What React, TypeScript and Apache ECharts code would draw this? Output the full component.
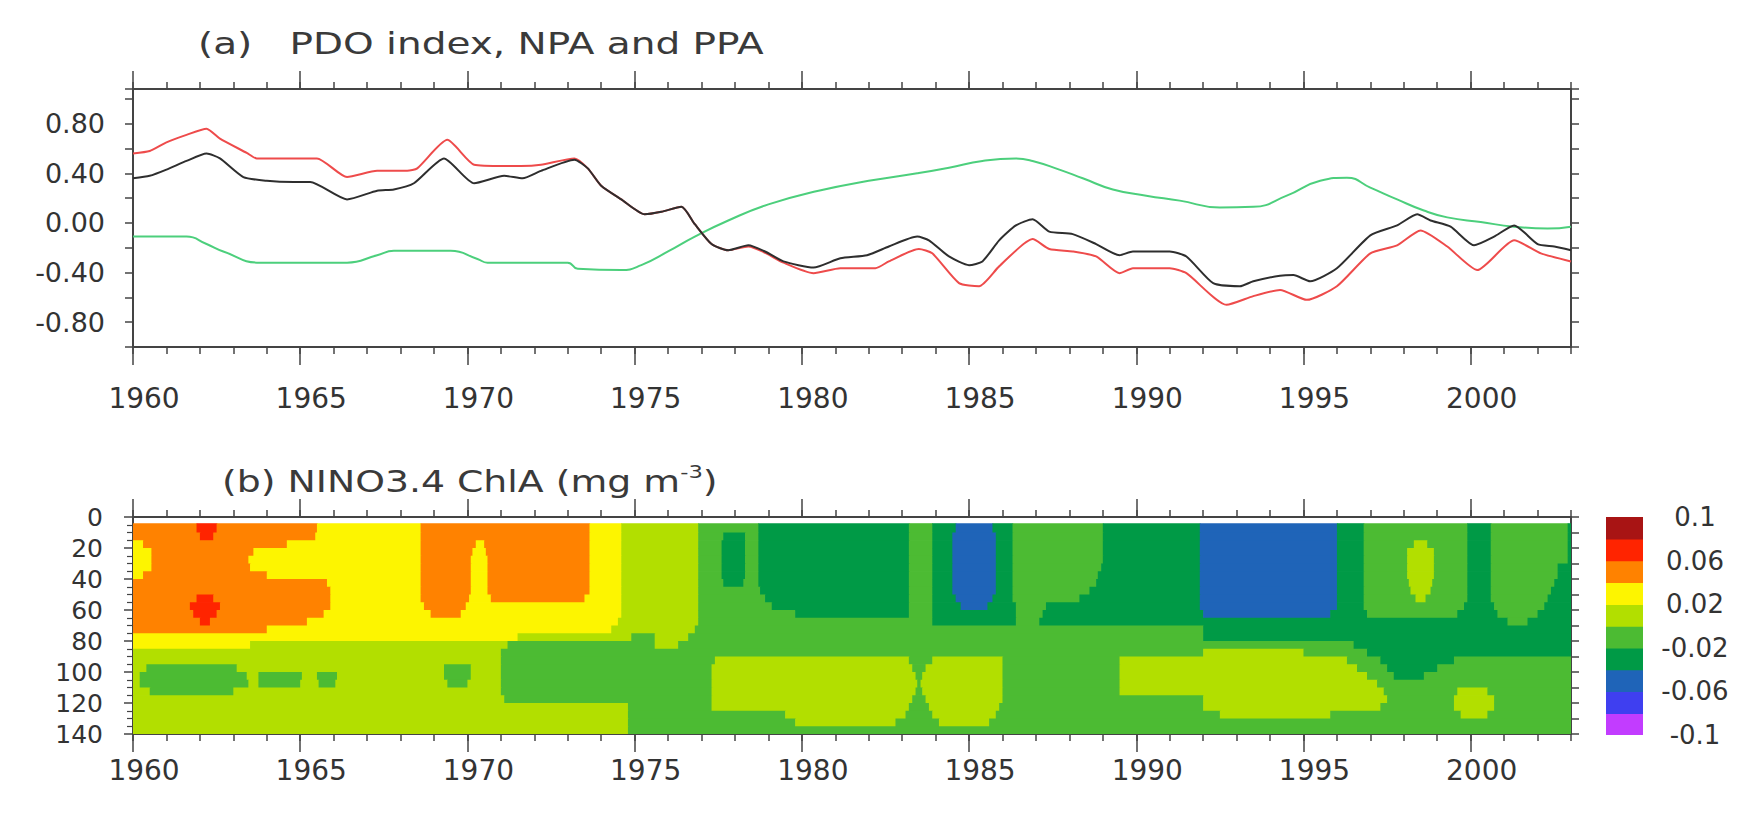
import React, { useEffect, useRef } from 'react';
import * as echarts from 'echarts';

// ---------- axis ranges / tick labels ----------
const xMin = 1960;
const xMax = 2003;
const yearLabels = [1960, 1965, 1970, 1975, 1980, 1985, 1990, 1995, 2000];
const indexMin = -1;
const indexMax = 1.08;
const indexLabels = [-0.8, -0.4, 0, 0.4, 0.8];
const depthMin = 0;
const depthMax = 140;

// ---------- panel (a): PDO index (black), NPA (red), PPA (green) ----------
const pdoYears = [1960.0, 1960.5, 1961.0, 1961.6, 1962.2, 1962.6, 1963.3, 1964.0, 1964.8, 1965.3, 1966.4, 1967.3, 1967.8, 1968.4, 1969.3, 1970.2, 1971.1, 1971.65, 1972.2, 1973.2, 1973.6, 1974.0, 1974.6, 1975.3, 1975.8, 1976.4, 1976.8, 1977.3, 1977.8, 1978.4, 1978.9, 1979.45, 1980.35, 1981.15, 1981.95, 1982.6, 1983.45, 1983.8, 1984.4, 1985.0, 1985.4, 1985.9, 1986.4, 1986.9, 1987.4, 1988.1, 1988.8, 1989.5, 1989.9, 1991.0, 1991.5, 1992.3, 1993.1, 1993.5, 1994.3, 1994.7, 1995.2, 1996.0, 1997.0, 1997.8, 1998.4, 1998.8, 1999.4, 2000.1, 2000.7, 2001.3, 2002.0, 2002.5, 2003.0];
const pdoValues = [0.36, 0.38, 0.43, 0.5, 0.56, 0.52, 0.37, 0.34, 0.33, 0.33, 0.19, 0.26, 0.27, 0.32, 0.52, 0.32, 0.38, 0.36, 0.42, 0.51, 0.44, 0.3, 0.19, 0.07, 0.09, 0.13, -0.01, -0.17, -0.22, -0.18, -0.23, -0.31, -0.36, -0.285, -0.26, -0.19, -0.11, -0.14, -0.27, -0.34, -0.31, -0.14, -0.02, 0.03, -0.07, -0.09, -0.17, -0.26, -0.23, -0.23, -0.27, -0.485, -0.51, -0.47, -0.425, -0.42, -0.47, -0.365, -0.1, -0.02, 0.07, 0.02, -0.03, -0.18, -0.11, -0.02, -0.17, -0.19, -0.22];

const npaYears = [1960.0, 1960.5, 1961.0, 1961.6, 1962.2, 1962.6, 1963.4, 1963.7, 1965.5, 1966.4, 1967.3, 1968.2, 1968.5, 1969.4, 1970.2, 1971.1, 1971.6, 1972.2, 1973.2, 1973.6, 1974.0, 1974.6, 1975.3, 1975.8, 1976.4, 1976.8, 1977.3, 1977.8, 1978.4, 1978.9, 1979.45, 1980.35, 1981.15, 1982.2, 1982.6, 1983.5, 1983.9, 1984.7, 1985.3, 1985.9, 1986.9, 1987.4, 1988.1, 1988.8, 1989.5, 1989.9, 1991.0, 1991.5, 1992.7, 1993.5, 1994.3, 1995.1, 1996.0, 1997.0, 1997.8, 1998.5, 1999.3, 2000.2, 2001.3, 2002.1, 2003.0];
const npaValues = [0.56, 0.58, 0.65, 0.71, 0.76, 0.68, 0.565, 0.52, 0.52, 0.37, 0.42, 0.42, 0.44, 0.67, 0.47, 0.46, 0.46, 0.47, 0.52, 0.44, 0.3, 0.19, 0.07, 0.09, 0.13, -0.01, -0.17, -0.22, -0.19, -0.24, -0.32, -0.405, -0.365, -0.365, -0.31, -0.21, -0.245, -0.485, -0.51, -0.35, -0.13, -0.21, -0.23, -0.27, -0.405, -0.365, -0.365, -0.405, -0.66, -0.59, -0.54, -0.62, -0.51, -0.245, -0.18, -0.06, -0.19, -0.38, -0.14, -0.245, -0.31];

const ppaYears = [1960.0, 1961.6, 1962.2, 1962.7, 1963.8, 1966.4, 1967.3, 1967.8, 1969.5, 1970.3, 1970.6, 1973.0, 1973.3, 1974.6, 1975.2, 1976.0, 1976.8, 1977.8, 1979.0, 1980.5, 1982.0, 1983.45, 1984.4, 1985.4, 1986.4, 1986.9, 1987.7, 1988.4, 1989.3, 1990.3, 1991.3, 1992.5, 1993.5, 1994.5, 1995.5, 1996.3, 1997.0, 1997.8, 1998.6, 1999.3, 2000.3, 2001.3, 2002.3, 2003.0];
const ppaValues = [-0.11, -0.11, -0.17, -0.23, -0.32, -0.32, -0.26, -0.225, -0.225, -0.29, -0.32, -0.32, -0.37, -0.38, -0.34, -0.23, -0.11, 0.02, 0.15, 0.26, 0.34, 0.4, 0.445, 0.5, 0.52, 0.5, 0.43, 0.36, 0.27, 0.22, 0.18, 0.125, 0.13, 0.22, 0.34, 0.365, 0.285, 0.19, 0.1, 0.045, 0.007, -0.03, -0.045, -0.03];

// ---------- panel (b): NINO3.4 ChlA, depth bands; each token = class code + end year ----------
const depthEdges = [4, 10, 15, 20, 25, 30, 35, 40, 45, 50, 55, 60, 65, 70, 75, 80, 85, 90, 95, 100, 105, 110, 115, 120, 125, 130, 135, 140];
const chlBandRows = [
  'O1961.9 R1962.5 O1965.5 Y1968.6 O1973.65 Y1974.6 L1976.9 G1978.7 D1983.2 G1983.9 D1984.6 B1985.7 D1986.3 G1989.0 D1991.9 B1996.0 D1996.8 G1999.9 D2000.6 G2002.9 D2003',
  'O1962.0 R1962.4 O1965.45 Y1968.6 O1973.65 Y1974.6 L1976.9 G1977.65 D1978.3 G1978.7 D1983.2 G1983.9 D1984.5 B1985.8 D1986.3 G1989.0 D1991.9 B1996.0 D1996.8 G1999.9 D2000.6 G2002.9 D2003',
  'Y1960.3 O1964.6 Y1968.6 O1970.25 Y1970.5 O1973.65 Y1974.6 L1976.9 G1977.6 D1978.3 G1978.7 D1983.2 G1983.9 D1984.5 B1985.8 D1986.3 G1989.0 D1991.9 B1996.0 D1996.8 G1998.3 L1998.7 G1999.9 D2000.6 G2002.9 D2003',
  'Y1960.55 O1963.6 Y1968.6 O1970.15 Y1970.55 O1973.65 Y1974.6 L1976.9 G1977.6 D1978.3 G1978.7 D1983.2 G1983.9 D1984.5 B1985.8 D1986.3 G1989.0 D1991.9 B1996.0 D1996.8 G1998.1 L1998.9 G1999.9 D2000.6 G2002.9 D2003',
  'Y1960.55 O1963.45 Y1968.6 O1970.1 Y1970.6 O1973.65 Y1974.6 L1976.9 G1977.6 D1978.3 G1978.7 D1983.2 G1983.9 D1984.5 B1985.8 D1986.3 G1989.0 D1991.9 B1996.0 D1996.8 G1998.1 L1998.9 G1999.9 D2000.6 G2002.9 D2003',
  'Y1960.55 O1963.5 Y1968.6 O1970.1 Y1970.6 O1973.65 Y1974.6 L1976.9 G1977.6 D1978.3 G1978.7 D1983.2 G1983.9 D1984.5 B1985.8 D1986.3 G1988.95 D1991.9 B1996.0 D1996.8 G1998.1 L1998.9 G1999.9 D2000.6 G2002.6 D2003',
  'Y1960.3 O1964.0 Y1968.6 O1970.1 Y1970.6 O1973.65 Y1974.6 L1976.9 G1977.6 D1978.3 G1978.7 D1983.2 G1983.9 D1984.5 B1985.8 D1986.3 G1988.85 D1991.9 B1996.0 D1996.8 G1998.1 L1998.9 G1999.9 D2000.6 G2002.6 D2003',
  'O1965.8 Y1968.6 O1970.1 Y1970.6 O1973.65 Y1974.6 L1976.9 G1977.65 D1978.25 G1978.7 D1983.2 G1983.9 D1984.5 B1985.8 D1986.3 G1988.8 D1991.9 B1996.0 D1996.8 G1998.15 L1998.85 G1999.9 D2000.6 G2002.5 D2003',
  'O1965.9 Y1968.6 O1970.1 Y1970.6 O1973.65 Y1974.6 L1976.9 G1978.75 D1983.2 G1983.9 D1984.5 B1985.8 D1986.3 G1988.6 D1991.9 B1996.0 D1996.8 G1998.2 L1998.8 G1999.9 D2000.6 G2002.4 D2003',
  'O1961.9 R1962.4 O1965.9 Y1968.6 O1970.05 Y1970.7 O1973.5 Y1974.6 L1976.9 G1978.9 D1983.2 G1983.9 D1984.6 B1985.7 D1986.3 G1988.3 D1991.9 B1996.0 D1996.8 G1998.35 L1998.65 G1999.9 D2000.6 G2002.3 D2003',
  'O1961.7 R1962.6 O1965.9 Y1968.7 O1969.95 Y1974.6 L1976.9 G1979.1 D1983.2 G1983.9 D1984.75 B1985.55 D1986.4 G1987.3 D1991.9 B1996.0 D1996.8 G1999.8 D2000.7 G2002.2 D2003',
  'O1961.8 R1962.5 O1965.7 Y1968.9 O1969.8 Y1974.6 L1976.9 G1979.8 D1983.2 G1983.9 D1986.4 G1987.2 D1992.0 B1995.8 D1996.9 G1999.6 D2000.8 G2002.0 D2003',
  'O1962.0 R1962.3 O1965.2 Y1974.5 L1976.9 G1983.9 D1986.4 G1987.1 D2001.1 G2001.7 D2003',
  'O1964.0 Y1974.3 L1976.8 G1992.0 D2003',
  'Y1971.5 L1974.9 G1975.6 L1976.6 G1992.0 D2003',
  'Y1963.5 L1971.2 G1975.6 L1976.3 G1996.5 D2003',
  'L1971.0 G1992.0 L1995.0 G1996.9 D2003',
  'L1971.0 G1977.4 L1983.2 G1983.9 L1986.0 G1989.5 L1996.3 G1997.3 D1999.5 G2003',
  'L1960.4 G1963.1 L1969.3 G1970.1 L1971.0 G1977.3 L1983.3 G1983.7 L1986.0 G1989.5 L1996.6 G1997.5 D1999.0 G2003',
  'L1960.2 G1963.4 L1963.75 G1965.05 L1965.5 G1966.1 L1969.3 G1970.1 L1971.0 G1977.3 L1983.4 G1983.6 L1986.0 G1989.5 L1996.9 G1997.7 D1998.6 G2003',
  'L1960.2 G1963.45 L1963.75 G1965.0 L1965.55 G1966.05 L1969.4 G1970.0 L1971.0 G1977.3 L1983.45 G1983.55 L1986.0 G1989.5 L1997.2 G2003',
  'L1960.5 G1963.0 L1971.0 G1977.3 L1983.4 G1983.6 L1986.0 G1989.5 L1997.4 G1999.6 L2000.5 G2003',
  'L1971.1 G1977.3 L1983.3 G1983.7 L1986.0 G1992.0 L1997.5 G1999.5 L2000.7 G2003',
  'L1974.8 G1977.3 L1983.2 G1983.8 L1985.9 G1992.0 L1997.3 G1999.5 L2000.7 G2003',
  'L1974.8 G1979.5 L1983.1 G1983.9 L1985.8 G1992.5 L1995.8 G1999.7 L2000.5 G2003',
  'L1974.8 G1979.8 L1982.8 G1984.1 L1985.6 G2003',
  'L1974.8 G2003',
];
const chlCodeValues: Record<string, number> = { R: 0.07, O: 0.05, Y: 0.03, L: 0.01, G: -0.01, D: -0.03, B: -0.05 };

// ---------- colour scale ----------
const colorEdges = [-0.1, -0.08, -0.06, -0.04, -0.02, 0, 0.02, 0.04, 0.06, 0.08, 0.1];
const colorList = ['#c23cff', '#3f3ff0', '#1f64b8', '#009a46', '#4cbb33', '#b2df00', '#fdf500', '#ff8200', '#ff2400', '#a81414'];
const colorbarTickLabels: Record<string, string> = { '10': '0.1', '6': '0.06', '2': '0.02', '-2': '-0.02', '-6': '-0.06', '-10': '-0.1' };

// ---------- build data ----------
const chlCells: number[][] = [];
chlBandRows.forEach((row, r) => {
  let start = xMin;
  row.trim().split(/\s+/).forEach((tok) => {
    const code = tok[0];
    const end = parseFloat(tok.slice(1));
    if (end > start) {
      chlCells.push([start, end, depthEdges[r], depthEdges[r + 1], chlCodeValues[code]]);
      start = end;
    }
  });
});
const colorbarCells: number[][] = colorEdges.slice(0, -1).map((lo, i) => [0, 1, lo, colorEdges[i + 1], (lo + colorEdges[i + 1]) / 2]);

const FONT = 'DejaVu Sans';
const TEXT = '#333333';
const AXIS = '#444444';

const renderCell = (_params: any, api: any) => {
  const a = api.coord([api.value(0), api.value(2)]);
  const b = api.coord([api.value(1), api.value(3)]);
  return {
    type: 'rect',
    shape: {
      x: Math.min(a[0], b[0]),
      y: Math.min(a[1], b[1]),
      width: Math.abs(b[0] - a[0]) + 0.7,
      height: Math.abs(b[1] - a[1]) + 0.7,
    },
    style: { fill: api.visual('color') },
  };
};

function xMain(gridIndex: number, position: string, showLabels: boolean, margin: number) {
  return {
    type: 'value', gridIndex, position, min: xMin, max: xMax, interval: 1,
    axisLine: { show: true, onZero: false, lineStyle: { color: AXIS, width: 2 } },
    axisTick: { show: true, inside: false, length: 7, lineStyle: { color: AXIS, width: 1.5 } },
    axisLabel: {
      show: showLabels, margin, fontFamily: FONT, fontSize: 28, color: TEXT,
      formatter: (v: number) => {
        const r = Math.round(v);
        return Math.abs(v - r) < 1e-6 && yearLabels.includes(r) ? `{p|${r}}` : '';
      },
      rich: { p: { fontFamily: FONT, fontSize: 28, color: TEXT, padding: [0, 0, 0, 22] } },
    },
    splitLine: { show: false },
  };
}
function xMajor(gridIndex: number, position: string) {
  return {
    type: 'value', gridIndex, position, min: xMin, max: xMax, interval: 5,
    axisLine: { show: false, onZero: false },
    axisTick: { show: true, inside: false, length: 18, customValues: yearLabels, lineStyle: { color: AXIS, width: 1.5 } },
    axisLabel: { show: false },
    splitLine: { show: false },
  };
}

const option: any = {
  animation: false,
  backgroundColor: '#ffffff',
  grid: [
    { left: 133, top: 89, width: 1438, height: 258 },
    { left: 133, top: 517, width: 1438, height: 217 },
    { left: 1606, top: 517, width: 37, height: 218 },
  ],
  xAxis: [
    xMain(0, 'bottom', true, 37),
    xMajor(0, 'bottom'),
    xMain(0, 'top', false, 8),
    xMajor(0, 'top'),
    xMain(1, 'bottom', true, 22),
    xMajor(1, 'bottom'),
    xMain(1, 'top', false, 8),
    xMajor(1, 'top'),
    { type: 'value', gridIndex: 2, min: 0, max: 1, show: false },
  ],
  yAxis: [
    {
      type: 'value', gridIndex: 0, position: 'left', min: indexMin, max: indexMax, interval: 0.2,
      axisLine: { show: true, onZero: false, lineStyle: { color: AXIS, width: 2 } },
      axisTick: { show: true, length: 8, lineStyle: { color: AXIS, width: 1.5 } },
      axisLabel: {
        margin: 28, fontFamily: FONT, fontSize: 27, color: TEXT,
        formatter: (v: number) => {
          const k = Math.round(v * 10);
          if (Math.abs(v * 10 - k) > 1e-6) return '';
          return indexLabels.some((l) => Math.round(l * 10) === k) ? (k / 10).toFixed(2) : '';
        },
      },
      splitLine: { show: false },
    },
    {
      type: 'value', gridIndex: 0, position: 'right', min: indexMin, max: indexMax, interval: 0.2,
      axisLine: { show: true, onZero: false, lineStyle: { color: AXIS, width: 2 } },
      axisTick: { show: true, length: 8, lineStyle: { color: AXIS, width: 1.5 } },
      axisLabel: { show: false },
      splitLine: { show: false },
    },
    {
      type: 'value', gridIndex: 1, position: 'left', min: depthMin, max: depthMax, interval: 20, inverse: true,
      axisLine: { show: true, onZero: false, lineStyle: { color: AXIS, width: 2 } },
      axisTick: { show: true, length: 9, lineStyle: { color: AXIS, width: 1.5 } },
      minorTick: { show: true, splitNumber: 4, length: 6, lineStyle: { color: AXIS, width: 1.2 } },
      axisLabel: { margin: 30, fontFamily: FONT, fontSize: 25, color: TEXT },
      splitLine: { show: false },
    },
    {
      type: 'value', gridIndex: 1, position: 'right', min: depthMin, max: depthMax, interval: 10, inverse: true,
      axisLine: { show: true, onZero: false, lineStyle: { color: AXIS, width: 2 } },
      axisTick: { show: true, length: 8, lineStyle: { color: AXIS, width: 1.5 } },
      axisLabel: { show: false },
      splitLine: { show: false },
    },
    {
      type: 'value', gridIndex: 2, position: 'right', min: -0.1, max: 0.1, interval: 0.02,
      axisLine: { show: false, onZero: false },
      axisTick: { show: false },
      axisLabel: {
        align: 'center', margin: 52, fontFamily: FONT, fontSize: 26, color: TEXT,
        formatter: (v: number) => colorbarTickLabels[String(Math.round(v * 100))] || '',
      },
      splitLine: { show: false },
    },
  ],
  visualMap: {
    type: 'piecewise', show: false, dimension: 4, seriesIndex: [3, 4],
    pieces: colorEdges.slice(0, -1).map((lo, i) => ({ gte: lo, lt: colorEdges[i + 1], color: colorList[i] })),
  },
  series: [
    {
      name: 'PPA', type: 'line', xAxisIndex: 0, yAxisIndex: 0, showSymbol: false, smooth: 0.5,
      data: ppaYears.map((y, i) => [y, ppaValues[i]]),
      lineStyle: { color: '#4ccf7c', width: 2 }, z: 2,
    },
    {
      name: 'NPA', type: 'line', xAxisIndex: 0, yAxisIndex: 0, showSymbol: false, smooth: 0.2,
      data: npaYears.map((y, i) => [y, npaValues[i]]),
      lineStyle: { color: '#ee4b4b', width: 2 }, z: 3,
    },
    {
      name: 'PDO', type: 'line', xAxisIndex: 0, yAxisIndex: 0, showSymbol: false, smooth: 0.2,
      data: pdoYears.map((y, i) => [y, pdoValues[i]]),
      lineStyle: { color: '#2e2e2e', width: 2 }, z: 4,
    },
    {
      name: 'ChlA', type: 'custom', xAxisIndex: 4, yAxisIndex: 2, clip: true,
      dimensions: ['x0', 'x1', 'd0', 'd1', 'value'],
      encode: { x: [0, 1], y: [2, 3] },
      renderItem: renderCell,
      data: chlCells,
    },
    {
      name: 'colorbar', type: 'custom', xAxisIndex: 8, yAxisIndex: 4, clip: true,
      dimensions: ['x0', 'x1', 'lo', 'hi', 'value'],
      encode: { x: [0, 1], y: [2, 3] },
      renderItem: renderCell,
      data: colorbarCells,
    },
  ],
  graphic: [
    {
      type: 'text', x: 198, y: 44, scaleX: 1.3,
      style: {
        text: '(a)   PDO index, NPA and PPA',
        fontFamily: FONT, fontSize: 30, fill: '#3a3a3a',
        align: 'left', verticalAlign: 'middle', textAlign: 'left', textVerticalAlign: 'middle',
      },
    },
    {
      type: 'text', x: 222, y: 481, scaleX: 1.26,
      style: {
        text: '{m|(b) NINO3.4 ChlA (mg m}{s|-3}{m|)}',
        align: 'left', verticalAlign: 'middle', textAlign: 'left', textVerticalAlign: 'middle',
        fontFamily: FONT, fontSize: 30, fill: '#3a3a3a',
        rich: {
          m: { fontFamily: FONT, fontSize: 30, lineHeight: 36, fill: '#3a3a3a', color: '#3a3a3a' },
          s: { fontFamily: FONT, fontSize: 18, lineHeight: 18, verticalAlign: 'top', fill: '#3a3a3a', color: '#3a3a3a' },
        },
      },
    },
  ],
};

export default function App() {
  const ref = useRef<HTMLDivElement>(null);
  useEffect(() => {
    if (!ref.current) return;
    const chart = echarts.init(ref.current, undefined, { renderer: 'svg' });
    chart.setOption(option);
    return () => chart.dispose();
  }, []);
  return (
    <div
      ref={ref}
      style={{ position: 'absolute', left: 0, top: 0, width: 1745, height: 829, background: '#ffffff' }}
    />
  );
}
